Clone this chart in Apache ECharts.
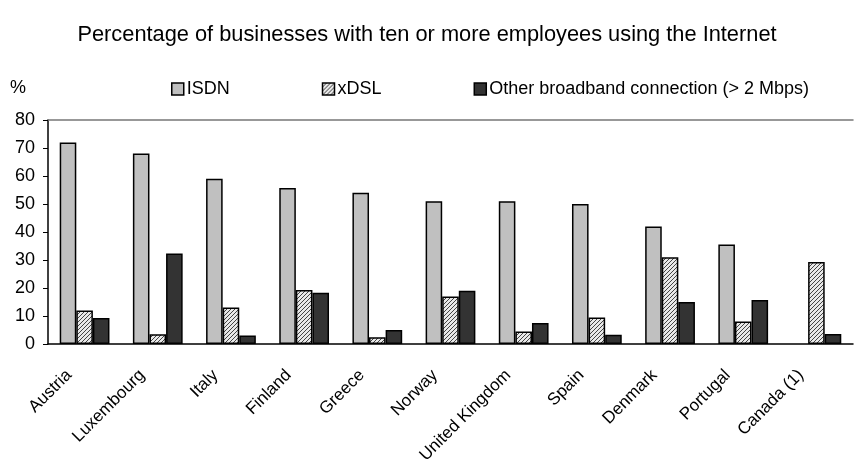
<!DOCTYPE html>
<html>
<head>
<meta charset="utf-8">
<script src="https://cdn.jsdelivr.net/npm/echarts@6/dist/echarts.min.js"></script>
<style>
  html, body { margin: 0; padding: 0; background: #fff; }
  #chart { width: 854px; height: 464px; }
</style>
</head>
<body>
<div id="chart"></div>
<script>
// Share of businesses (10+ employees) by type of Internet connection, in %
const countries = ['Austria', 'Luxembourg', 'Italy', 'Finland', 'Greece', 'Norway',
  'United Kingdom', 'Spain', 'Denmark', 'Portugal', 'Canada (1)'];
const isdn = [72, 68, 59, 55.7, 54, 51, 51, 50, 42, 35.5, null];
const xdsl = [12, 3.5, 13, 19.3, 2.4, 17, 4.5, 9.5, 31, 8, 29.3];
const otherBroadband = [9.3, 32.3, 3, 18.3, 5, 19, 7.5, 3.3, 15, 15.7, 3.6];
const seriesNames = ['ISDN', 'xDSL', 'Other broadband connection (> 2 Mbps)'];
const yTicks = [0, 10, 20, 30, 40, 50, 60, 70, 80];

// Diagonal hatch tile for the xDSL bars
function hatchTile() {
  const c = document.createElement('canvas');
  c.width = 4; c.height = 4;
  const g = c.getContext('2d');
  g.fillStyle = '#e8e8e8';
  g.fillRect(0, 0, 4, 4);
  g.fillStyle = '#444';
  for (let i = 0; i < 4; i++) g.fillRect(i, 3 - i, 1, 1);
  return { image: c, repeat: 'repeat' };
}
const hatch = hatchTile();
const fills = ['#c0c0c0', hatch, '#333333'];
const font = 'Liberation Sans, Arial, Helvetica, sans-serif';

const chart = echarts.init(document.getElementById('chart'), null, { renderer: 'canvas' });

const series = [isdn, xdsl, otherBroadband].map((vals, i) => ({
  name: seriesNames[i],
  type: 'bar',
  data: vals,
  barGap: '0%',
  barCategoryGap: '32%',
  itemStyle: { color: fills[i], borderColor: '#000', borderWidth: 1.5 },
  emphasis: { disabled: true },
  animation: false
}));

chart.setOption({
  animation: false,
  backgroundColor: '#fff',
  textStyle: { fontFamily: font, color: '#000' },
  title: {
    text: 'Percentage of businesses with ten or more employees using the Internet',
    left: 'center',
    top: 19,
    textStyle: { fontFamily: font, fontSize: 21.8, fontWeight: 'normal', color: '#000' }
  },
  legend: {
    left: 166,
    top: 75,
    itemGap: 92,
    itemWidth: 12,
    itemHeight: 12,
    icon: 'rect',
    selectedMode: false,
    data: seriesNames.map((n, i) => ({
      name: n,
      itemStyle: { color: fills[i], borderColor: '#000', borderWidth: 1.5 }
    })),
    textStyle: { fontFamily: font, fontSize: 18, color: '#000', padding: [0, 0, 0, -2] }
  },
  graphic: [{
    type: 'text',
    left: 10,
    top: 79,
    style: { text: '%', font: '18px ' + font, fill: '#000' }
  }],
  grid: { left: 48, right: 1, top: 120, bottom: 120, containLabel: false, outerBoundsMode: 'none' },
  xAxis: [{
    type: 'category',
    data: countries,
    axisLine: { lineStyle: { color: '#000', width: 1.5 } },
    axisTick: { show: false },
    axisLabel: {
      rotate: 45,
      interval: 0,
      margin: 13,
      fontFamily: font,
      fontSize: 17,
      color: '#000',
      padding: [0, 22, 0, 0]
    }
  }, {
    type: 'category',
    position: 'top',
    data: countries,
    axisLine: { lineStyle: { color: '#777', width: 1.5 } },
    axisTick: { show: false },
    axisLabel: { show: false }
  }],
  yAxis: {
    type: 'value',
    min: yTicks[0],
    max: yTicks[yTicks.length - 1],
    interval: 10,
    axisLine: { show: true, lineStyle: { color: '#000', width: 1.5 } },
    axisTick: { show: true, inside: false, length: 5, lineStyle: { color: '#000' } },
    splitLine: { show: false },
    axisLabel: { fontFamily: font, fontSize: 18, color: '#000', margin: 13 }
  },
  series: series
});
</script>
</body>
</html>
